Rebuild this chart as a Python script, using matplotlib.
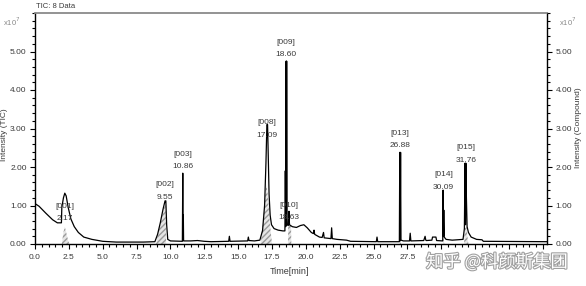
import matplotlib
matplotlib.use("Agg")
import matplotlib.pyplot as plt
from matplotlib.ticker import MultipleLocator
import matplotlib.patheffects as pe

plt.rcParams['font.family'] = ['Liberation Sans Narrow', 'Liberation Sans', 'DejaVu Sans']

# ---------------- data (intensity in units of 1e7) ----------------
tic_time = [0.00, 0.30, 0.80, 1.30, 1.65, 1.95, 1.98, 2.10, 2.20, 2.30, 2.45, 2.65, 2.90, 3.20,
            3.60, 4.20, 5.00, 6.00, 8.00, 8.85, 9.05, 9.25, 9.45, 9.60, 9.66, 9.72, 9.80, 10.00,
            10.88, 10.91, 10.93, 10.95, 10.97, 11.50, 12.00, 12.50, 13.00, 14.30, 14.35, 14.40,
            15.70, 15.75, 15.80, 16.20, 16.60, 16.80, 16.95, 17.05, 17.12, 17.17, 17.22, 17.28,
            17.36, 17.46, 17.65, 17.95, 18.30, 18.45, 18.48, 18.51, 18.54, 18.56, 18.58, 18.61,
            18.70, 18.75, 18.78, 19.00, 19.30, 19.60, 19.85, 20.10, 20.40, 20.55, 20.60, 20.65,
            21.00, 21.20, 21.30, 21.35, 21.60, 21.85, 21.90, 21.95, 22.30, 23.00, 23.30, 25.20,
            25.25, 25.30, 26.90, 26.93, 26.96, 26.99, 27.02, 27.20, 27.65, 27.70, 27.75, 28.70,
            28.80, 28.85, 28.90, 29.30, 29.35, 29.60, 29.65, 30.10, 30.13, 30.16, 30.18, 30.21,
            30.35, 30.80, 31.60, 31.70, 31.75, 31.78, 31.81, 31.85, 31.90, 32.00, 32.20, 32.60,
            33.00, 33.10, 37.80]
tic_int = [1.05, 0.98, 0.80, 0.63, 0.55, 0.55, 0.95, 1.20, 1.32, 1.25, 0.95, 0.65, 0.45, 0.30,
           0.18, 0.12, 0.07, 0.05, 0.05, 0.06, 0.25, 0.55, 0.90, 1.12, 1.12, 0.50, 0.12, 0.08,
           0.07, 1.84, 0.10, 0.75, 0.08, 0.08, 0.09, 0.07, 0.06, 0.07, 0.20, 0.07,
           0.08, 0.18, 0.09, 0.08, 0.10, 0.35, 1.00, 2.10, 3.10, 3.10, 2.30, 1.30,
           0.75, 0.50, 0.40, 0.36, 0.34, 0.34, 1.90, 0.45, 4.75, 0.50, 4.75, 0.50,
           0.48, 0.85, 0.50, 0.45, 0.43, 0.48, 0.50, 0.42, 0.30, 0.27, 0.36, 0.25,
           0.18, 0.17, 0.30, 0.16, 0.15, 0.14, 0.42, 0.14, 0.12, 0.10, 0.07, 0.06,
           0.18, 0.06, 0.06, 2.38, 0.08, 2.38, 0.10, 0.08, 0.08, 0.28, 0.08, 0.09,
           0.20, 0.10, 0.09, 0.10, 0.18, 0.18, 0.09, 0.08, 1.40, 0.20, 0.88, 0.18,
           0.12, 0.10, 0.12, 0.40, 2.10, 0.50, 2.10, 1.20, 0.45, 0.30, 0.18, 0.12,
           0.11, 0.07, 0.06]

# compound (integrated) peaks, right axis
cmp_peaks = [
    ([1.98, 2.10, 2.20, 2.30, 2.45, 2.55], [0.0, 0.30, 0.45, 0.30, 0.08, 0.0]),
    ([8.95, 9.10, 9.30, 9.50, 9.64, 9.68], [0.0, 0.30, 0.60, 0.90, 1.05, 0.0]),
    ([16.65, 16.85, 17.00, 17.10, 17.20, 17.35, 17.50], [0.0, 0.60, 1.30, 1.55, 1.20, 0.50, 0.0]),
    ([18.68, 18.70, 18.90, 18.92], [0.0, 0.55, 0.55, 0.0]),
    ([26.92, 26.97, 27.02], [0.0, 0.12, 0.0]),
    ([30.12, 30.17, 30.22], [0.0, 0.20, 0.0]),
    ([31.68, 31.72, 31.86, 31.95, 32.00], [0.0, 0.40, 0.45, 0.10, 0.0]),
]

peak_ids = ['[001]', '[002]', '[003]', '[008]', '[009]', '[010]', '[013]', '[014]', '[015]']
peak_rt = ['2.17', '9.55', '10.86', '17.09', '18.60', '18.63', '26.88', '30.09', '31.76']
# label anchor (time, intensity of lower text line)
label_t = [2.20, 9.62, 10.92, 17.15, 18.55, 18.72, 26.95, 30.15, 31.80]
label_y = [0.65, 1.22, 2.00, 2.83, 4.91, 0.68, 2.55, 1.48, 2.18]

x_ticks = [0.0, 2.5, 5.0, 7.5, 10.0, 12.5, 15.0, 17.5, 20.0, 22.5, 25.0, 27.5, 30.0, 32.5, 35.0, 37.5]
# labels beyond 27.5 are hidden under the watermark in the reference
x_labels = ['0.0', '2.5', '5.0', '7.5', '10.0', '12.5', '15.0', '17.5', '20.0', '22.5', '25.0',
            '27.5', '', '', '', '']
y_ticks = [0, 1, 2, 3, 4, 5]
y_labels = ['0.00', '1.00', '2.00', '3.00', '4.00', '5.00']

# ---------------- figure ----------------
W, H = 586, 286
fig = plt.figure(figsize=(W / 100, H / 100), dpi=100)
ax = fig.add_axes([35 / W, 1 - 244 / H, 512 / W, 231 / H])
txtc = '#3a3a3a'

for xs, ys in cmp_peaks:
    ax.fill_between(xs, 0, ys, facecolor='#e6e6e6', edgecolor='#9a9a9a', hatch='//////',
                    linewidth=0, zorder=1)

ax.plot(tic_time, tic_int, color='black', linewidth=0.9, zorder=3)

for pid, rt, lt, ly in zip(peak_ids, peak_rt, label_t, label_y):
    ax.text(lt, ly, rt, ha='center', va='center', fontsize=6, color=txtc, zorder=4)
    ax.annotate(pid, (lt, ly), xytext=(0, 9), textcoords='offset points', ha='center',
                va='center', fontsize=6, color=txtc, zorder=4)

ax.set_xlim(0, 37.8)
ax.set_ylim(0, 6)
ax.set_xticks(x_ticks)
ax.set_xticklabels(x_labels)
ax.xaxis.set_minor_locator(MultipleLocator(0.5))
ax.set_yticks(y_ticks)
ax.set_yticklabels(y_labels)
ax.yaxis.set_minor_locator(MultipleLocator(0.2))
ax.tick_params(which='both', direction='out', color='black', width=0.8,
               labelsize=6, labelcolor=txtc)
ax.tick_params(axis='x', which='major', length=3.5, pad=4)
ax.tick_params(axis='y', which='major', length=3.5, pad=2.5)
ax.tick_params(which='minor', length=2.5)

for s in ['left', 'bottom', 'right']:
    ax.spines[s].set_color('black')
    ax.spines[s].set_linewidth(1.0)
ax.spines['top'].set_color('#8a8a8a')
ax.spines['top'].set_linewidth(1.3)

ax2 = ax.twinx()
ax2.set_ylim(0, 6)
ax2.set_yticks(y_ticks)
ax2.set_yticklabels(y_labels)
ax2.yaxis.set_minor_locator(MultipleLocator(0.2))
ax2.tick_params(which='both', direction='out', width=0.8, labelsize=6, labelcolor=txtc)
ax2.tick_params(which='major', length=3.5, pad=2.5)
ax2.tick_params(which='minor', length=2.5)
for s in ['left', 'bottom', 'right', 'top']:
    ax2.spines[s].set_visible(False)

fig.text(5 / W, 1 - 135 / H, 'Intensity (TIC)', rotation=90, ha='center', va='center',
         fontsize=6, color=txtc)
fig.text(579 / W, 1 - 128 / H, 'Intensity (Compound)', rotation=90, ha='center', va='center',
         fontsize=6, color=txtc)
fig.text(290 / W, 1 - 272 / H, 'Time[min]', ha='center', va='center', fontsize=6.5, color=txtc)
fig.text(36 / W, 1 - 6 / H, 'TIC: 8 Data', ha='left', va='center', fontsize=5.5, color=txtc)
fig.text(12 / W, 1 - 22 / H, r'x10$^7$', ha='center', va='center', fontsize=5.5, color='#888888')
fig.text(568 / W, 1 - 22 / H, r'x10$^7$', ha='center', va='center', fontsize=5.5, color='#888888')

fig.text(497 / W, 1 - 262 / H, '知乎 @科颜斯集团', ha='center', va='center', fontsize=12.5,
         family=['Noto Sans CJK SC', 'DejaVu Sans'], color='white',
         path_effects=[pe.withStroke(linewidth=1.6, foreground='#a0a0a0')], zorder=10)

fig.savefig('out.png', dpi=100)
